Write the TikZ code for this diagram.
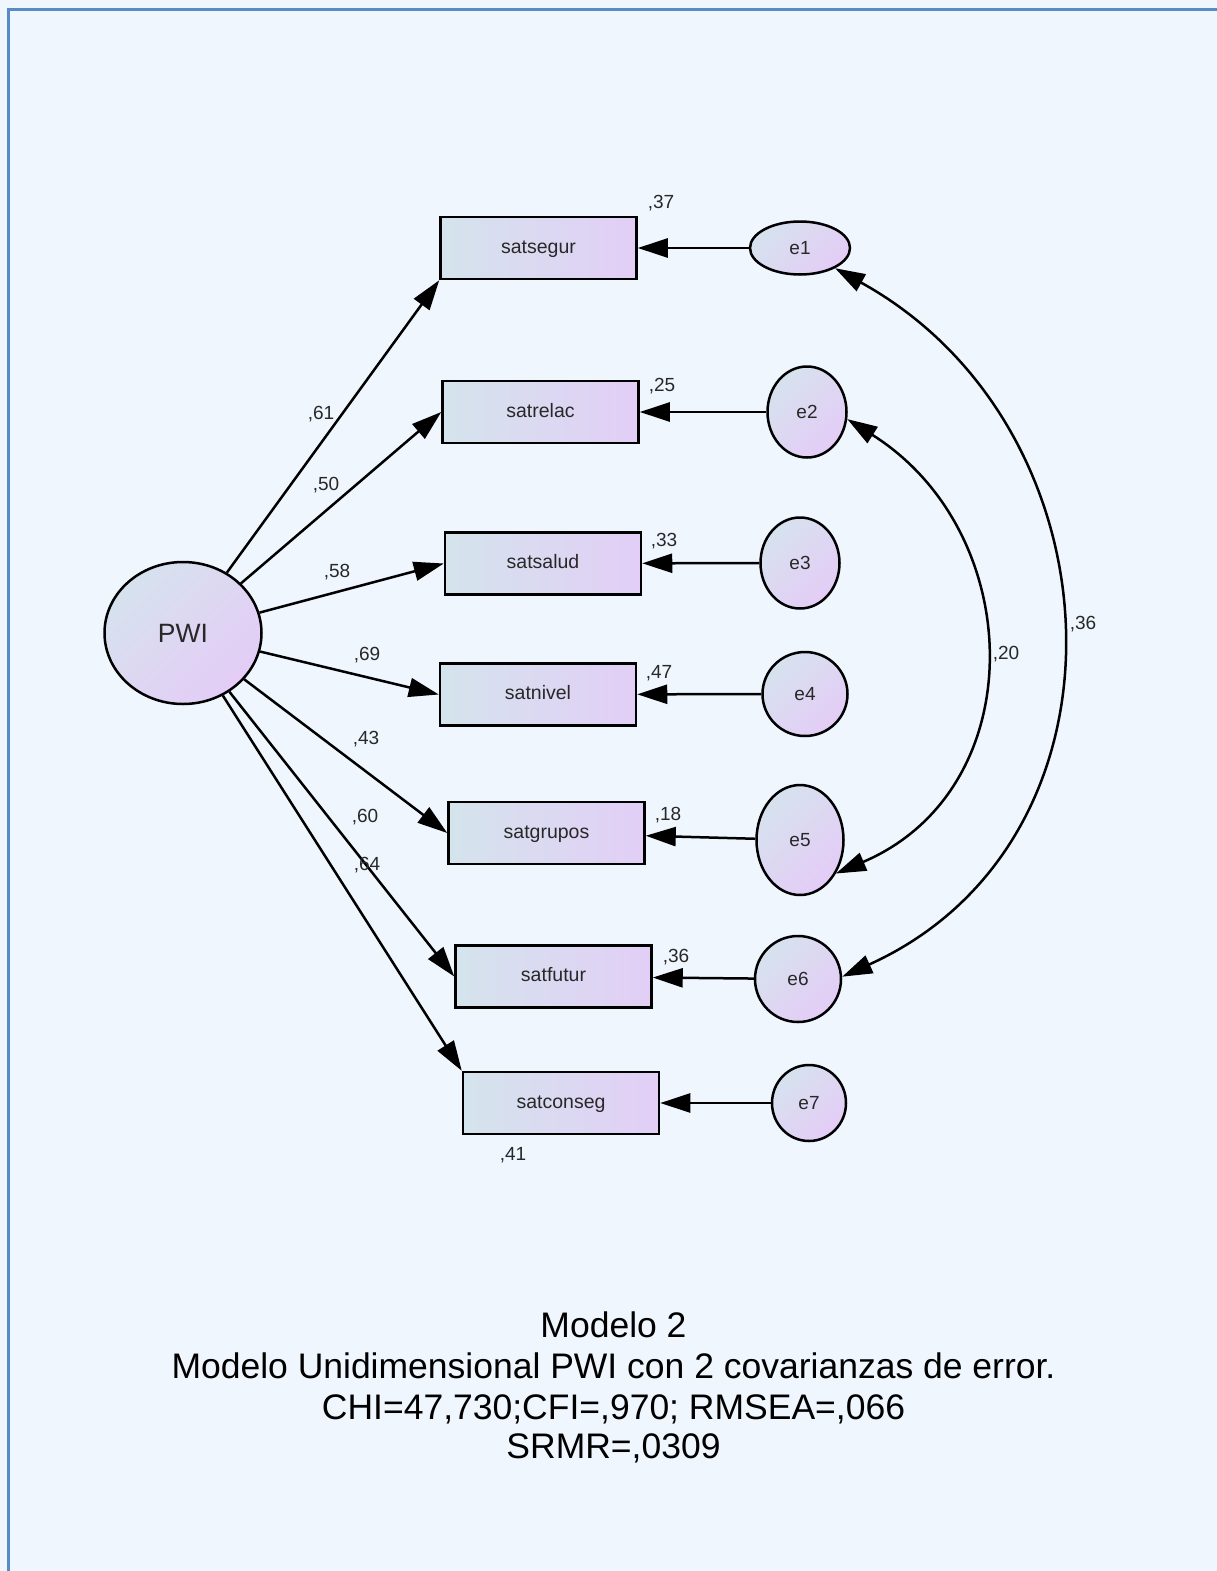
\documentclass[tikz,border=0pt]{standalone}
\usepackage{fontspec}
\setmainfont{Liberation Sans}
\usetikzlibrary{arrows.meta,shapes.geometric}

\definecolor{bgcol}{RGB}{239,246,254}
\definecolor{framecol}{RGB}{88,138,200}
\definecolor{boxA}{RGB}{212,228,236}
\definecolor{boxB}{RGB}{226,206,246}
\definecolor{ovA}{RGB}{214,226,238}
\definecolor{ovB}{RGB}{228,204,246}
\definecolor{txt}{RGB}{40,40,40}

\tikzset{
  obs/.style={draw=black, line width=2.5pt, rectangle, minimum width=196pt,
    minimum height=62pt, inner sep=0pt, left color=boxA, right color=boxB,
    text=txt, font=\fontsize{19.5}{21}\selectfont, text height=10pt, text depth=0pt},
  lat/.style={draw=black, line width=2.5pt, ellipse, inner sep=0pt,
    top color=ovA, bottom color=ovB, shading angle=45,
    text=txt, font=\fontsize{19}{21}\selectfont, text height=13.6pt, text depth=0pt},
  reg/.style={line width=2.5pt, -{Triangle[length=30pt,width=19pt]}},
  cov/.style={line width=2.5pt, {Triangle[length=30pt,width=19pt]}-{Triangle[length=30pt,width=19pt]}},
  est/.style={inner sep=0pt, text=txt, font=\fontsize{19}{21}\selectfont},
  captext/.style={inner sep=0pt, anchor=base, text=black, font=\fontsize{35.5}{40}\selectfont},
}

\begin{document}
\begin{tikzpicture}[x=1pt,y=-1pt]
\useasboundingbox (0,0) rectangle (1217,1571);
\fill[bgcol] (0,0) rectangle (1217,1571);
\draw[framecol, line width=3pt] (8.5,1571) -- (8.5,9.5) -- (1217,9.5);

% latent factor
\node[lat, minimum width=157pt, minimum height=142pt,
      font=\fontsize{26.5}{28}\selectfont, text height=19pt] (pwi) at (183,633) {PWI};

% observed indicators
\node[obs] (b1) at (538.5,248) {satsegur};
\node[obs] (b2) at (540.5,412) {satrelac};
\node[obs] (b3) at (543,563.5) {satsalud};
\node[obs] (b4) at (538,694.5) {satnivel};
\node[obs] (b5) at (546.5,833) {satgrupos};
\node[obs] (b6) at (553.5,976.5) {satfutur};
\node[obs] (b7) at (561,1103) {satconseg};

% error terms
\node[lat, minimum width=100pt, minimum height=53pt] (e1) at (800,248) {e1};
\node[lat, minimum width=79pt, minimum height=91pt] (e2) at (807,412) {e2};
\node[lat, minimum width=79pt, minimum height=91pt] (e3) at (800,563) {e3};
\node[lat, minimum width=85pt, minimum height=84pt] (e4) at (805,694) {e4};
\node[lat, minimum width=87pt, minimum height=110pt] (e5) at (800,840) {e5};
\node[lat, minimum width=86pt, minimum height=86pt] (e6) at (798,979) {e6};
\node[lat, minimum width=74pt, minimum height=76pt] (e7) at (809,1103) {e7};

% factor loadings
\draw[reg] (pwi) -- (b1.south west);
\draw[reg] (pwi) -- (b2.west);
\draw[reg] (pwi) -- (b3.west);
\draw[reg] (pwi) -- (b4.west);
\draw[reg] (pwi) -- (b5.west);
\draw[reg] (pwi) -- (b6.west);
\draw[reg] (pwi) -- (b7.north west);

% error paths
\draw[reg] (e1) -- (b1);
\draw[reg] (e2) -- (b2);
\draw[reg] (e3) -- (b3);
\draw[reg] (e4) -- (b4);
\draw[reg] (e5) -- (b5);
\draw[reg] (e6) -- (b6);
\draw[reg] (e7) -- (b7);

% error covariances
\draw[cov] (e1.-30) .. controls +(288,159) and +(301,-136) .. (e6.3);
\draw[cov] (e2.-10) .. controls +(181,114) and +(197,-84) .. (e5.-43);

% standardized loadings
\node[est] (l1) at (321,414) {,61};
\node[est] (l2) at (326,485) {,50};
\node[est] (l3) at (337,572) {,58};
\node[est] (l4) at (367,655) {,69};
\node[est] (l5) at (366,739) {,43};
\node[est] (l6) at (365,817) {,60};
\node[est] (l7) at (367,865) {,64};

% squared multiple correlations
\node[est] (r1) at (661,203) {,37};
\node[est] (r2) at (662,386) {,25};
\node[est] (r3) at (664,541) {,33};
\node[est] (r4) at (659,673) {,47};
\node[est] (r5) at (668,815) {,18};
\node[est] (r6) at (676,957) {,36};
\node[est] (r7) at (513,1155) {,41};

% covariance estimates
\node[est] (c1) at (1006,654) {,20};
\node[est] (c2) at (1083,624) {,36};

% caption
\node[captext] (t1) at (613.5,1337) {Modelo 2};
\node[captext] (t2) at (613.5,1378) {Modelo Unidimensional PWI con 2 covarianzas de error.};
\node[captext] (t3) at (613.5,1419) {CHI=47,730;CFI=,970; RMSEA=,066};
\node[captext] (t4) at (613.5,1458) {SRMR=,0309};
\end{tikzpicture}
\end{document}
